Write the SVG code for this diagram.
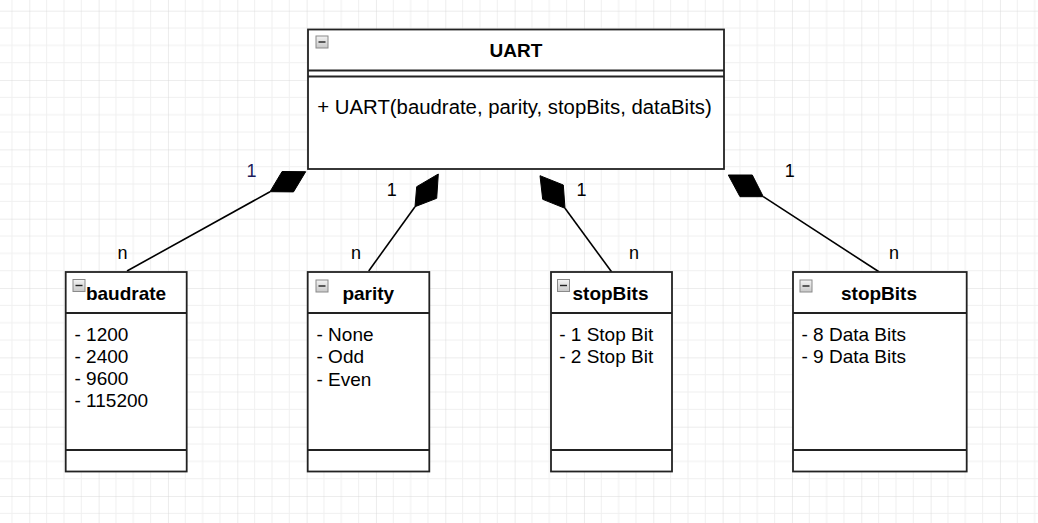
<svg xmlns="http://www.w3.org/2000/svg" width="1038" height="523" viewBox="0 0 1038 523">
<defs>
<pattern id="grid" patternUnits="userSpaceOnUse" x="29.3" y="10.7" width="69.333" height="69.333">
<path d="M17.333 0V69.333M34.667 0V69.333M52 0V69.333M0 17.333H69.333M0 34.667H69.333M0 52H69.333" fill="none" stroke="#f0f0f0" stroke-width="1"/>
<path d="M0 0V69.333M0 0H69.333" fill="none" stroke="#d9d9d9" stroke-width="1"/>
</pattern>
<linearGradient id="ig" x1="0" y1="0" x2="0" y2="1">
<stop offset="0" stop-color="#f4f4f4"/>
<stop offset="1" stop-color="#c8c8c8"/>
</linearGradient>
<g id="icon">
<rect x="0.5" y="0.5" width="12" height="12" fill="url(#ig)" stroke="#8a8a8a" stroke-width="1"/>
<path d="M3 6.5H10" stroke="#222" stroke-width="1.4"/>
</g>
</defs>
<style>
.box{fill:#fff;stroke:#222;stroke-width:1.8}
.ln{stroke:#222;stroke-width:1.8;fill:none}
.title{font-family:"Liberation Sans",Arial,sans-serif;font-weight:bold;font-size:19px;fill:#000;text-anchor:middle}
.item{font-family:"Liberation Sans",Arial,sans-serif;font-size:19px;fill:#000}
.lbl{font-family:"Liberation Sans",Arial,sans-serif;font-size:18px;fill:#000;text-anchor:middle}
.conn{stroke:#000;stroke-width:1.6;fill:none}
.dia{fill:#000;stroke:#000;stroke-width:1}
</style>
<rect width="1038" height="523" fill="#fff"/>
<rect width="1038" height="523" fill="url(#grid)"/>

<g id="connectors">
<path class="conn" d="M127 271L270 191.7"/>
<polygon class="dia" points="305.7,171.7 293.5,191.9 270,191.7 282.1,171.5"/>
<path class="conn" d="M368.7 271L415 206.7"/>
<polygon class="dia" points="438.3,174 436.7,198.3 415,206.7 416.7,186.7"/>
<path class="conn" d="M611.7 272L565 208.3"/>
<polygon class="dia" points="540,175.7 563.3,185 565,208.3 542.7,199.3"/>
<path class="conn" d="M879.3 272L763.3 196.7"/>
<polygon class="dia" points="728.3,175 752.3,175 763.3,196.7 740,196.7"/>
<text class="lbl" x="251.5" y="177" style="fill:#1c1c5a">1</text>
<text class="lbl" x="122.5" y="259">n</text>
<text class="lbl" x="391.7" y="196">1</text>
<text class="lbl" x="356" y="259">n</text>
<text class="lbl" x="581.5" y="196">1</text>
<text class="lbl" x="634" y="259">n</text>
<text class="lbl" x="789.7" y="177">1</text>
<text class="lbl" x="894" y="259">n</text>
</g>

<g id="uart">
<rect class="box" x="308" y="29.5" width="416" height="139.5"/>
<path class="ln" d="M308 70.5H724M308 76.5H724"/>
<use href="#icon" x="315.5" y="35.5"/>
<text class="title" x="516" y="56.5">UART</text>
<text class="item" x="317.3" y="114" style="font-size:20.35px">+ UART(baudrate, parity, stopBits, dataBits)</text>
</g>

<g id="baudrate">
<rect class="box" x="65.7" y="272" width="121" height="199.5"/>
<path class="ln" d="M65.7 313H186.7M65.7 450H186.7"/>
<use href="#icon" x="72.5" y="279"/>
<text class="title" x="126" y="299.5">baudrate</text>
<text class="item" x="74.5" y="341">- 1200</text>
<text class="item" x="74.5" y="363">- 2400</text>
<text class="item" x="74.5" y="385">- 9600</text>
<text class="item" x="74.5" y="407">- 115200</text>
</g>

<g id="parity">
<rect class="box" x="307.7" y="272" width="121.6" height="199.5"/>
<path class="ln" d="M307.7 313H429.3M307.7 450H429.3"/>
<use href="#icon" x="315.5" y="279.5"/>
<text class="title" x="368.3" y="299.5">parity</text>
<text class="item" x="316.5" y="341">- None</text>
<text class="item" x="316.5" y="363">- Odd</text>
<text class="item" x="316.5" y="385.5">- Even</text>
</g>

<g id="stopBits">
<rect class="box" x="551" y="272" width="121" height="199.5"/>
<path class="ln" d="M551 313H672M551 450H672"/>
<use href="#icon" x="557" y="279"/>
<text class="title" x="610.5" y="299.5">stopBits</text>
<text class="item" x="559.2" y="341">- 1 Stop Bit</text>
<text class="item" x="559.2" y="363">- 2 Stop Bit</text>
</g>

<g id="dataBits">
<rect class="box" x="793" y="272" width="173.7" height="199.5"/>
<path class="ln" d="M793 313H966.7M793 450H966.7"/>
<use href="#icon" x="799.5" y="279.5"/>
<text class="title" x="879" y="299.5">stopBits</text>
<text class="item" x="801.5" y="341">- 8 Data Bits</text>
<text class="item" x="801.5" y="363">- 9 Data Bits</text>
</g>
</svg>
